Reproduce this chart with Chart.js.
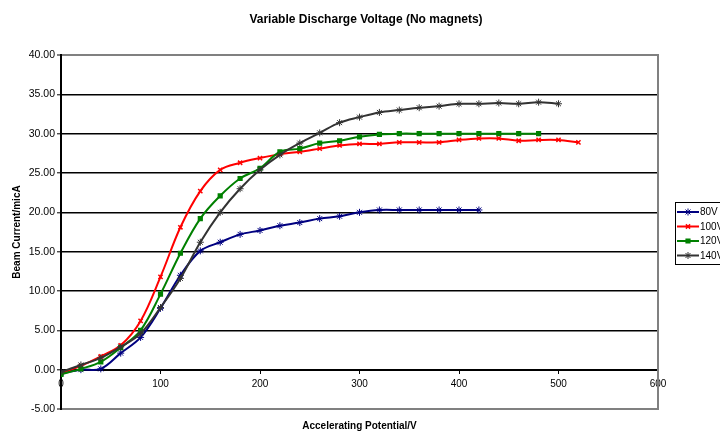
<!DOCTYPE html>
<html><head><meta charset="utf-8">
<script src="https://cdn.jsdelivr.net/npm/chart.js@4.4.1/dist/chart.umd.min.js"></script>
<style>html,body{margin:0;padding:0;background:#fff;overflow:hidden}</style>
</head><body>
<canvas id="c" width="720" height="433"></canvas>
<script>
// ---- data ----
const potential = [0,20,40,60,80,100,120,140,160,180,200,220,240,260,280,300,320,340,360,380,400,420,440,460,480,500,520];
const seriesLabels = ['80V','100V','120V','140V'];
const current80V  = [-0.5,0.0,0.1,2.1,4.1,7.8,12.0,15.1,16.2,17.2,17.7,18.3,18.7,19.2,19.5,20.0,20.3,20.3,20.3,20.3,20.3,20.3];
const current100V = [-0.4,0.5,1.7,3.1,6.2,11.8,18.1,22.7,25.4,26.3,26.9,27.4,27.7,28.1,28.5,28.7,28.7,28.9,28.9,28.9,29.2,29.4,29.4,29.1,29.2,29.2,28.9];
const current120V = [-0.6,0.1,1.0,2.8,5.0,9.6,14.8,19.2,22.1,24.3,25.6,27.7,28.1,28.8,29.1,29.6,29.9,30.0,30.0,30.0,30.0,30.0,30.0,30.0,30.0];
const current140V = [-0.3,0.6,1.5,2.9,4.6,7.9,11.6,16.2,20.0,23.0,25.4,27.3,28.8,30.1,31.4,32.1,32.7,33.0,33.3,33.5,33.8,33.8,33.9,33.8,34.0,33.8];
const xTicks = [0,100,200,300,400,500,600];
const yTicks = [-5,0,5,10,15,20,25,30,35,40];

const FONT = "'Liberation Sans', Arial, Helvetica, sans-serif";
Chart.defaults.font.family = FONT;
Chart.defaults.color = '#000';

const styles = [
  {color:'#000080', pointStyle:'star', radius:3.5, bw:1, order:3},
  {color:'#ff0000', pointStyle:'crossRot', radius:3, bw:1.5, order:2},
  {color:'#008000', pointStyle:'rect', radius:2.6, bw:1.5, order:1},
  {color:'#333333', pointStyle:'star', radius:3.5, bw:1, order:0}
];
const allSeries = [current80V, current100V, current120V, current140V];

const datasets = allSeries.map((vals, i) => ({
  label: seriesLabels[i],
  data: vals.map((v, k) => ({x: potential[k], y: v})),
  borderColor: styles[i].color,
  backgroundColor: styles[i].color,
  pointStyle: styles[i].pointStyle,
  pointRadius: styles[i].radius,
  pointBorderWidth: styles[i].bw,
  pointBorderColor: styles[i].color,
  pointBackgroundColor: styles[i].color,
  borderWidth: 2,
  showLine: true,
  tension: 0.35,
  order: styles[i].order
}));

const legendPlugin = {
  id: 'boxLegend',
  afterDraw(chart) {
    const ctx = chart.ctx;
    const ca = chart.chartArea;
    const x0 = ca.right + 17, y0 = 202;
    ctx.save();
    ctx.strokeStyle = '#000';
    ctx.lineWidth = 1;
    ctx.strokeRect(x0 + 0.5, y0 + 0.5, 70, 62);
    chart.data.datasets.forEach((ds, i) => {
      const y = y0 + 10 + i * 14.5;
      ctx.strokeStyle = ds.borderColor;
      ctx.lineWidth = 2;
      ctx.beginPath();
      ctx.moveTo(x0 + 2, y);
      ctx.lineTo(x0 + 24, y);
      ctx.stroke();
      ctx.fillStyle = ds.borderColor;
      ctx.lineWidth = ds.pointBorderWidth;
      Chart.helpers.drawPoint(ctx, {pointStyle: ds.pointStyle, radius: ds.pointRadius, rotation: 0, borderWidth: ds.pointBorderWidth}, x0 + 13, y);
      ctx.fillStyle = '#000';
      ctx.font = '10px ' + FONT;
      ctx.textBaseline = 'middle';
      ctx.textAlign = 'left';
      ctx.fillText(ds.label, x0 + 25, y + 0.5);
    });
    ctx.restore();
  }
};

new Chart(document.getElementById('c'), {
  type: 'scatter',
  data: {datasets},
  plugins: [legendPlugin],
  options: {
    responsive: false,
    animation: false,
    devicePixelRatio: 1,
    layout: {padding: {left: 12, right: 0, top: 0, bottom: 0}},
    plugins: {
      legend: {display: false},
      tooltip: {enabled: false},
      title: {
        display: true,
        text: 'Variable Discharge Voltage (No magnets)',
        color: '#000',
        font: {size: 12, weight: 'bold', lineHeight: 1.2},
        padding: {top: 12, bottom: 28.6}
      }
    },
    scales: {
      x: {
        type: 'linear',
        position: {y: 0},
        min: xTicks[0], max: xTicks[xTicks.length - 1],
        afterBuildTicks(s) { s.ticks = xTicks.map(v => ({value: v})); },
        ticks: {font: {size: 10}, padding: 6, color: '#000', maxRotation: 0, autoSkip: false},
        grid: {drawOnChartArea: false, drawTicks: true, tickLength: 3, color: '#000', tickColor: '#000', tickWidth: 1},
        border: {color: '#000', width: 2}
      },
      xb: {
        type: 'linear',
        position: 'bottom',
        min: 0, max: 600,
        ticks: {display: false},
        grid: {display: false, drawTicks: false},
        border: {display: true, color: '#808080', width: 2},
        title: {display: true, text: 'Accelerating Potential/V', color: '#000', font: {size: 10, weight: 'bold', lineHeight: 1.2}, padding: {top: 11, bottom: 1}}
      },
      y: {
        type: 'linear',
        position: 'left',
        min: yTicks[0], max: yTicks[yTicks.length - 1],
        afterBuildTicks(s) { s.ticks = yTicks.map(v => ({value: v})); },
        afterFit(s) { s.width = 49; },
        ticks: {font: {size: 10.5}, padding: 2, color: '#000', callback: v => Number(v).toFixed(2)},
        grid: {
          color: c => (c.tick && (c.tick.value === 40 || c.tick.value === -5)) ? '#808080' : '#000',
          lineWidth: c => (c.tick && (c.tick.value === 40 || c.tick.value === -5)) ? 2 : 1.6,
          tickColor: '#000', tickWidth: 1, tickLength: 4
        },
        border: {color: '#000', width: 2},
        title: {display: true, text: 'Beam Current/micA', color: '#000', font: {size: 10, weight: 'bold', lineHeight: 1.2}, padding: {top: -1, bottom: 0}}
      },
      y2: {
        type: 'linear',
        position: 'right',
        min: -5, max: 40,
        afterFit(s) { s.width = 62; },
        ticks: {display: false},
        grid: {display: false, drawTicks: false},
        border: {display: true, color: '#808080', width: 2}
      }
    }
  }
});
</script>
</body></html>
